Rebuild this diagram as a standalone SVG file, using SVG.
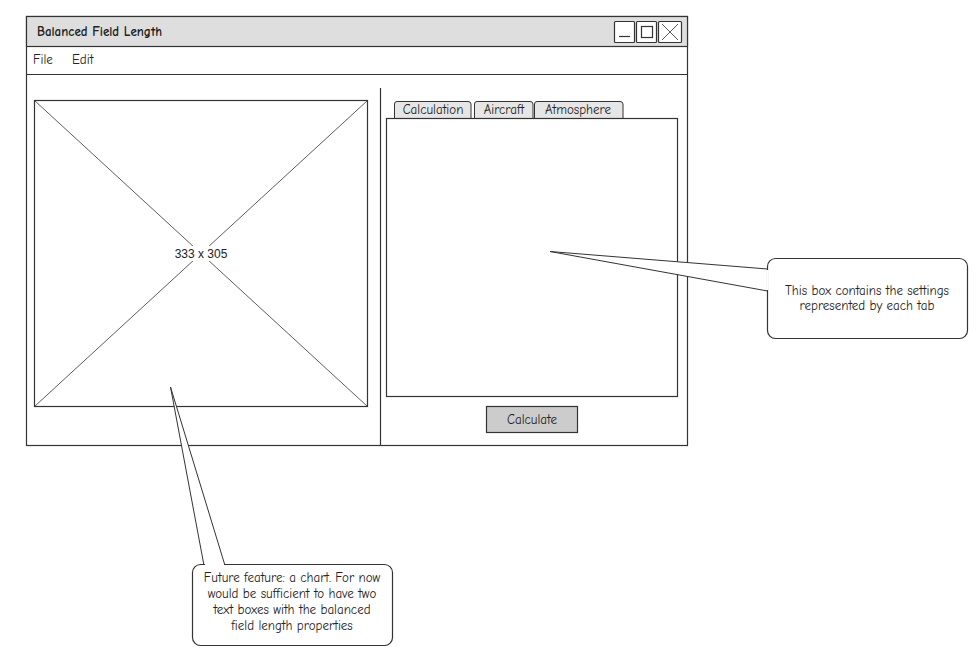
<svg xmlns="http://www.w3.org/2000/svg" width="979" height="669" viewBox="0 0 979 669">
<style>
text{font-family:"Comic Neue","DejaVu Sans","Liberation Sans",sans-serif;font-size:13px;fill:#222}
.ln{stroke:#333;stroke-width:1.2;fill:none}
.box{fill:#fff;stroke:#333;stroke-width:1.2}
</style>
<rect width="979" height="669" fill="#fff"/>
<g id="window">
<rect x="26.5" y="16.5" width="661" height="429" class="box"/>
<rect x="26.5" y="16.5" width="661" height="30" fill="#dedede" stroke="#333" stroke-width="1.2"/>
<text x="37" y="36" font-weight="bold">Balanced Field Length</text>
<rect x="614.5" y="21.5" width="20" height="21" rx="1" class="box"/>
<line x1="619" y1="36.5" x2="630" y2="36.5" class="ln"/>
<rect x="636.5" y="21.5" width="20" height="21" rx="1" class="box"/>
<rect x="641.5" y="26.5" width="11" height="11" class="ln"/>
<rect x="658.5" y="21.5" width="23" height="21" rx="1" class="box"/>
<line x1="662" y1="24" x2="678" y2="40" stroke="#333" stroke-width="0.8"/>
<line x1="678" y1="24" x2="662" y2="40" stroke="#333" stroke-width="0.8"/>
<text x="33" y="64">File</text>
<text x="72" y="64">Edit</text>
<line x1="26.5" y1="74.5" x2="687.5" y2="74.5" class="ln"/>
<line x1="380.5" y1="88" x2="380.5" y2="445" class="ln"/>
</g>
<g id="chart">
<rect x="34.5" y="100.5" width="333" height="306" class="box"/>
<line x1="34.5" y1="100.5" x2="367.5" y2="406.5" stroke="#333" stroke-width="0.8"/>
<line x1="367.5" y1="100.5" x2="34.5" y2="406.5" stroke="#333" stroke-width="0.8"/>
<rect x="170" y="246" width="62" height="15" fill="#fff"/>
<text x="201" y="258" text-anchor="middle" style="font-family:'Liberation Sans',Arial,sans-serif;font-size:12px">333 x 305</text>
</g>
<g id="tabs">
<path d="M394.5 118 V104 Q394.5 101.5 397 101.5 H468 Q471 101.5 471 104 V118" fill="#e6e6e6" stroke="#333" stroke-width="1"/>
<text x="433" y="114" text-anchor="middle">Calculation</text>
<path d="M474.5 118 V104 Q474.5 101.5 477 101.5 H530 Q533 101.5 533 104 V118" fill="#e6e6e6" stroke="#333" stroke-width="1"/>
<text x="504" y="114" text-anchor="middle">Aircraft</text>
<path d="M534.5 118 V104 Q534.5 101.5 537 101.5 H620 Q623 101.5 623 104 V118" fill="#e6e6e6" stroke="#333" stroke-width="1"/>
<text x="578" y="114" text-anchor="middle">Atmosphere</text>
<rect x="386.5" y="118.5" width="291" height="278" class="box"/>
</g>
<g id="calculate">
<rect x="486.5" y="406.5" width="91" height="26" fill="#cccccc" stroke="#333" stroke-width="1.2"/>
<text x="532" y="424" text-anchor="middle">Calculate</text>
</g>
<g id="callout-settings">
<path d="M767.5 269 L550 251.5 L767.5 291" fill="#fff" stroke="#333" stroke-width="1"/>
<rect x="767.5" y="258.5" width="200" height="80" rx="8" class="box"/>
<line x1="767.5" y1="270" x2="767.5" y2="290" stroke="#fff" stroke-width="2"/>
<text x="867" y="295" text-anchor="middle">This box contains the settings</text>
<text x="867" y="310" text-anchor="middle">represented by each tab</text>
</g>
<g id="callout-chart">
<path d="M204 565.5 L170.5 387 L225 565.5" fill="#fff" stroke="#333" stroke-width="1"/>
<rect x="192.5" y="564.5" width="200" height="81" rx="8" class="box"/>
<line x1="205" y1="564.5" x2="224" y2="564.5" stroke="#fff" stroke-width="2"/>
<text x="292" y="582" text-anchor="middle">Future feature: a chart. For now</text>
<text x="292" y="598" text-anchor="middle">would be sufficient to have two</text>
<text x="292" y="614" text-anchor="middle">text boxes with the balanced</text>
<text x="292" y="630" text-anchor="middle">field length properties</text>
</g>
</svg>
